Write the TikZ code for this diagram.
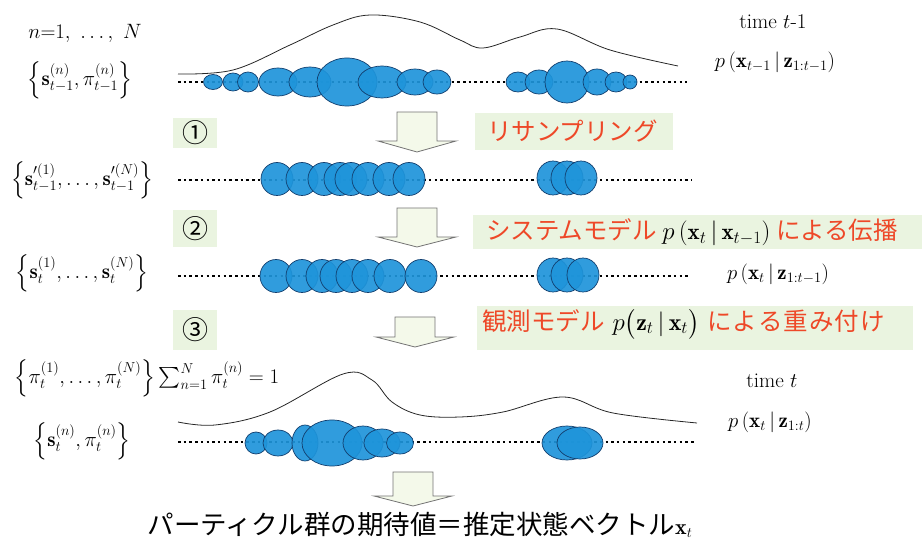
\documentclass[tikz,border=0pt]{standalone}
\usepackage{amsmath}
\usepackage{fontspec}
\newfontfamily\cjk{Noto Sans CJK JP}
\definecolor{pblue}{RGB}{30,148,218}
\definecolor{pedge}{RGB}{18,62,110}
\definecolor{hlgreen}{RGB}{234,244,224}
\definecolor{arrfill}{RGB}{244,249,234}
\definecolor{lblred}{RGB}{238,72,40}
\tikzset{
  particle/.style={fill=pblue, fill opacity=0.92, draw=pedge, line width=0.7pt},
  dotline/.style={line width=2.5pt, dash pattern=on 2.5pt off 3.2pt},
  density/.style={line width=0.8pt, black!85},
  blockarrow/.style={fill=arrfill, draw=black!55, line width=0.8pt},
  hl/.style={fill=hlgreen, draw=none},
  mathlbl/.style={inner sep=0pt, font=\fontsize{21}{25}\selectfont},
  jplbl/.style={inner sep=0pt, anchor=west, text=lblred, font=\fontsize{24.5}{28}\selectfont\cjk},
  steplbl/.style={inner sep=0pt, font=\fontsize{26}{28}\selectfont\cjk}
}
\begin{document}
\begin{tikzpicture}[x=1pt,y=-1pt]
\useasboundingbox (0,0) rectangle (922,545);
% highlight boxes
\fill[hl] (173,118) rectangle (217,148);
\fill[hl] (173,210) rectangle (217,247);
\fill[hl] (173,310) rectangle (217,350);
\fill[hl] (475,113) rectangle (673,150);
\fill[hl] (473,215) rectangle (922,249);
\fill[hl] (477,306) rectangle (913,350);
% block arrows
\newcommand\blockarr[4]{%
  \draw[blockarrow] (#1-20,#2) -- (#1+20,#2) -- (#1+20,#3) -- (#1+39,#3) -- (#1,#4) -- (#1-39,#3) -- (#1-20,#3) -- cycle;}
\blockarr{417}{112}{141}{152}
\blockarr{417}{208}{237}{247}
\blockarr{415}{317}{337}{347}
\blockarr{413}{472}{496}{506}
% row 1
\draw[density] plot[smooth, tension=0.6] coordinates {(178,74) (233,70) (290,45) (333,25) (370,15) (420,22) (460,40) (483,48) (520,37) (557,29) (610,50) (678,66)};
\draw[dotline] (178,82) -- (687,82);
\foreach \x/\rx/\ry in {213/9.5/7.5, 233/10/9, 248/10.5/10, 278/19/14, 310/21/15, 347/30/24, 382/24/16, 415/18/13, 437/14/12, 518/12/10, 539/14/12, 567/22/21, 597/14/13, 616/11/10, 630/7/7}
  \path[particle] (\x,82) ellipse [x radius=\rx, y radius=\ry];
% row 2
\draw[dotline] (178,180) -- (692,180);
\foreach \x in {277,302,324,340,351,368,389,409}
  \path[particle] (\x,179) ellipse [x radius=16, y radius=16.5];
\foreach \x in {553,567,581}
  \path[particle] (\x,178) ellipse [x radius=16, y radius=17];
% row 3
\draw[dotline] (178,276) -- (690,276);
\foreach \x in {276,302,322,336,352,368,390,421}
  \path[particle] (\x,276) ellipse [x radius=16, y radius=16.5];
\foreach \x in {553,567,583}
  \path[particle] (\x,275) ellipse [x radius=16, y radius=17];
% row 4
\draw[density] plot[smooth, tension=0.6] coordinates {(178,422) (215,425) (270,412) (343,374) (372,380) (392,402) (420,415) (460,417) (503,412) (563,397) (613,413) (697,423)};
\draw[dotline] (178,442) -- (695,442);
\foreach \x/\rx/\ry in {256/11/11, 278/15/13, 305/13/18, 332/30/23, 363/20/17, 382/18/14, 400/13.5/11, 567/25/17, 580/23/16}
  \path[particle] (\x,443) ellipse [x radius=\rx, y radius=\ry];
% left labels
\node[mathlbl] (nrange) at (85,33) {$n{=}1,\ \ldots,\ N$};
\node[mathlbl] (set1) at (80,80) {$\left\{\mathbf{s}_{t-1}^{(n)},\pi_{t-1}^{(n)}\right\}$};
\node[mathlbl] (set2) at (82,180) {$\left\{\mathbf{s}_{t-1}^{\prime(1)},\ldots,\mathbf{s}_{t-1}^{\prime(N)}\right\}$};
\node[mathlbl] (set3) at (82,273) {$\left\{\mathbf{s}_{t}^{(1)},\ldots,\mathbf{s}_{t}^{(N)}\right\}$};
\node[mathlbl] (set4) at (147,378) {$\left\{\pi_{t}^{(1)},\ldots,\pi_{t}^{(N)}\right\}\textstyle\sum_{n=1}^{N}\pi_t^{(n)}=1$};
\node[mathlbl] (set5) at (82,441) {$\left\{\mathbf{s}_{t}^{(n)},\pi_{t}^{(n)}\right\}$};
% right labels
\node[mathlbl] (time1) at (773,22) {time $t$-1};
\node[mathlbl] (dens1) at (775,62) {$p\left(\mathbf{x}_{t-1}\,|\,\mathbf{z}_{1:t-1}\right)$};
\node[mathlbl] (dens2) at (778,274) {$p\left(\mathbf{x}_{t}\,|\,\mathbf{z}_{1:t-1}\right)$};
\node[mathlbl] (time2) at (772,381) {time $t$};
\node[mathlbl] (dens3) at (770,422) {$p\left(\mathbf{x}_{t}\,|\,\mathbf{z}_{1:t}\right)$};
% step numbers
\node[steplbl] (s1) at (195,133) {①};
\node[steplbl] (s2) at (195,229) {②};
\node[steplbl] (s3) at (195,330) {③};
% step descriptions
\node[jplbl] (d1) at (487,131) {リサンプリング};
\node[jplbl] (d2) at (486,232) {システムモデル \textcolor{black}{\fontsize{23}{27}\selectfont$p\left(\mathbf{x}_t\,|\,\mathbf{x}_{t-1}\right)$} による伝播};
\node[jplbl] (d3) at (482,324) {観測モデル\hspace{8pt}\textcolor{black}{\fontsize{24}{28}\selectfont$p\bigl(\mathbf{z}_t\,|\,\mathbf{x}_{t}\bigr)$}\hspace{8pt}に\hspace{1pt}よ\hspace{1pt}る\hspace{1pt}重\hspace{1pt}み\hspace{1pt}付\hspace{1pt}け};
% bottom
\node[inner sep=0pt, font=\fontsize{26.5}{30}\selectfont\cjk] (res) at (420,525) {パーティクル群の期待値＝推定状態ベクトル{\fontsize{22}{25}\selectfont$\mathbf{x}_t$}};
\end{tikzpicture}
\end{document}
